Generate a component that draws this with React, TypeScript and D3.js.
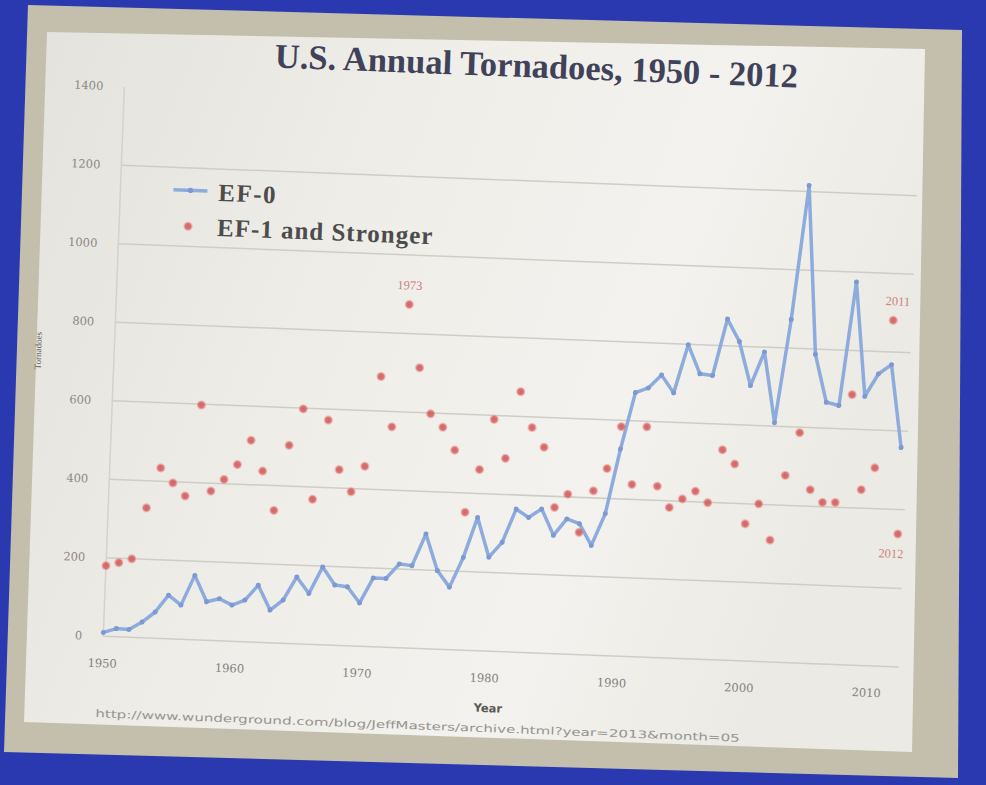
import React from 'react';
import * as d3 from 'd3';

const years = [
  1950, 1951, 1952, 1953, 1954, 1955, 1956, 1957, 1958, 1959,
  1960, 1961, 1962, 1963, 1964, 1965, 1966, 1967, 1968, 1969,
  1970, 1971, 1972, 1973, 1974, 1975, 1976, 1977, 1978, 1979,
  1980, 1981, 1982, 1983, 1984, 1985, 1986, 1987, 1988, 1989,
  1990, 1991, 1992, 1993, 1994, 1995, 1996, 1997, 1998, 1999,
  2000, 2001, 2002, 2003, 2004, 2005, 2006, 2007, 2008, 2009,
  2010, 2011, 2012,
];

const ef0 = [
  10, 21, 20, 40, 67, 111, 87, 164, 98, 107,
  92, 106, 145, 83, 110, 170, 129, 198, 153, 150,
  110, 175, 175, 213, 210, 292, 200, 159, 236, 339,
  239, 278, 364, 344, 367, 301, 344, 333, 279, 361,
  527, 672, 685, 719, 675, 799, 726, 723, 868, 812,
  701, 788, 609, 873, 1216, 787, 666, 659, 975, 685,
  743, 768, 558,
];

const ef1Plus = [
  180, 189, 200, 331, 434, 397, 365, 598, 380, 411,
  450, 513, 436, 337, 504, 598, 369, 572, 447, 392,
  458, 688, 561, 874, 714, 598, 565, 508, 351, 461,
  590, 492, 663, 573, 524, 372, 407, 311, 418, 476,
  584, 438, 586, 436, 383, 406, 427, 399, 535, 500,
  349, 401, 310, 476, 586, 442, 411, 412, 688, 447,
  504, 881, 338,
];

const yTicks = [0, 200, 400, 600, 800, 1000, 1200, 1400];
const xTickYears = [1950, 1960, 1970, 1980, 1990, 2000, 2010];
const annotatedYears = [1973, 2011, 2012];
const annotationSide = ['above', 'above', 'below'];

const TITLE = 'U.S. Annual Tornadoes, 1950 - 2012';
const SOURCE = 'http://www.wunderground.com/blog/JeffMasters/archive.html?year=2013&month=05';

export default function App() {
  const W = 986;
  const H = 785;
  const x = d3.scaleLinear().domain([1950, 2012]).range([113, 903]);
  const y = d3.scaleLinear().domain([0, 1400]).range([651, 101]);

  const line = d3
    .line<number>()
    .x((_, i) => x(years[i]))
    .y((d) => y(d));

  const serif = '"Liberation Serif", "DejaVu Serif", serif';
  const wideSerif = '"DejaVu Serif", serif';
  const sans = '"DejaVu Sans", sans-serif';
  const blue = '#8dabdd';
  const blueMarker = '#7c99d2';
  const red = '#d45a5a';

  return (
    <svg
      width={W}
      height={H}
      style={{ position: 'absolute', left: 0, top: 0, display: 'block' }}
    >
      <defs>
        <linearGradient id="paperGrad" x1="0" y1="0" x2="1" y2="0.3">
          <stop offset="0" stopColor="#e4e2dc" />
          <stop offset="0.45" stopColor="#efeee9" />
          <stop offset="0.75" stopColor="#f3f2ee" />
          <stop offset="1" stopColor="#ebeae4" />
        </linearGradient>
        <radialGradient id="dotGlow">
          <stop offset="0" stopColor={red} stopOpacity="0.95" />
          <stop offset="0.6" stopColor={red} stopOpacity="0.8" />
          <stop offset="1" stopColor="#f0a0a0" stopOpacity="0.15" />
        </radialGradient>
      </defs>
      {/* background: blue board, grey-beige mat, paper */}
      <rect x={0} y={0} width={W} height={H} fill="#2a39b0" />
      <polygon points="28,5 962,30 958,778 4,752" fill="#c3bfac" />
      <polygon points="47,32 925,49 912,752 24,722" fill="url(#paperGrad)" />

      <g transform="rotate(2.2 490 390)" fontFamily={serif}>
        {/* title */}
        <text
          x={524}
          y={76}
          textAnchor="middle"
          fontSize={34.5}
          fontWeight="bold"
          fill="#40425a"
        >
          {TITLE}
        </text>

        {/* gridlines */}
        {yTicks
          .filter((t) => t < 1400)
          .map((t) => (
            <line
              key={'g' + t}
              x1={x(1950)}
              x2={x(2012) + 6}
              y1={y(t)}
              y2={y(t)}
              stroke="#cfcdc6"
              strokeWidth={1.5}
            />
          ))}
        <line
          x1={x(1950)}
          x2={x(1950)}
          y1={y(0)}
          y2={y(1400)}
          stroke="#d4d2cc"
          strokeWidth={1.5}
        />

        {/* y tick labels */}
        {yTicks.map((t) => (
          <text
            key={'yl' + t}
            x={x(1950) - 21}
            y={y(t)}
            textAnchor="end"
            dominantBaseline="central"
            fontSize={11.5}
            fontFamily={wideSerif}
            fill="#8a8882"
          >
            {t}
          </text>
        ))}

        {/* x tick labels */}
        {xTickYears.map((yr) => (
          <text
            key={'xl' + yr}
            x={x(yr)}
            y={y(0) + 27}
            textAnchor="middle"
            dominantBaseline="central"
            fontSize={11.5}
            fontFamily={wideSerif}
            fill="#83817b"
          >
            {yr}
          </text>
        ))}

        {/* axis titles */}
        <text
          x={500}
          y={708}
          textAnchor="middle"
          dominantBaseline="central"
          fontSize={11.5}
          fontWeight="bold"
          fontFamily={sans}
          fill="#5a5853"
        >
          Year
        </text>
        <text
          transform="translate(37 368) rotate(-90)"
          textAnchor="middle"
          dominantBaseline="central"
          fontSize={9}
          fill="#5f5d58"
        >
          Tornadoes
        </text>

        {/* source */}
        <text
          x={108}
          y={728}
          fontSize={10.5}
          fontFamily={sans}
          fill="#96948e"
          dominantBaseline="central"
          textLength={645}
          lengthAdjust="spacingAndGlyphs"
        >
          {SOURCE}
        </text>

        {/* EF-0 series */}
        <path d={line(ef0) || ''} fill="none" stroke={blue} strokeWidth={3.5} strokeLinejoin="round" />
        {ef0.map((v, i) => (
          <circle key={'b' + i} cx={x(years[i])} cy={y(v)} r={2.5} fill={blueMarker} />
        ))}

        {/* EF-1+ series */}
        {ef1Plus.map((v, i) => (
          <circle key={'r' + i} cx={x(years[i])} cy={y(v)} r={5} fill="url(#dotGlow)" />
        ))}

        {/* annotations */}
        {annotatedYears.map((yr, k) => {
          const i = years.indexOf(yr);
          const above = annotationSide[k] === 'above';
          return (
            <text
              key={'a' + yr}
              x={x(yr) + (yr === 2011 ? 4 : yr === 2012 ? -6 : 0)}
              y={y(ef1Plus[i]) + (above ? -19 : 20)}
              textAnchor="middle"
              dominantBaseline="central"
              fontSize={12.5}
              fill="#cf8080"
            >
              {yr}
            </text>
          );
        })}

        {/* legend */}
        <line x1={166} x2={200} y1={202} y2={202} stroke={blue} strokeWidth={3.5} />
        <circle cx={183} cy={202} r={2.7} fill={blueMarker} />
        <text
          x={211}
          y={203}
          fontSize={25}
          fontWeight="bold"
          letterSpacing={1.5}
          fill="#4c4c4c"
          dominantBaseline="central"
        >
          EF-0
        </text>
        <circle cx={182} cy={238} r={5} fill="url(#dotGlow)" />
        <text
          x={211}
          y={238}
          fontSize={25}
          fontWeight="bold"
          letterSpacing={1}
          fill="#4c4c4c"
          dominantBaseline="central"
        >
          EF-1 and Stronger
        </text>
      </g>
    </svg>
  );
}
